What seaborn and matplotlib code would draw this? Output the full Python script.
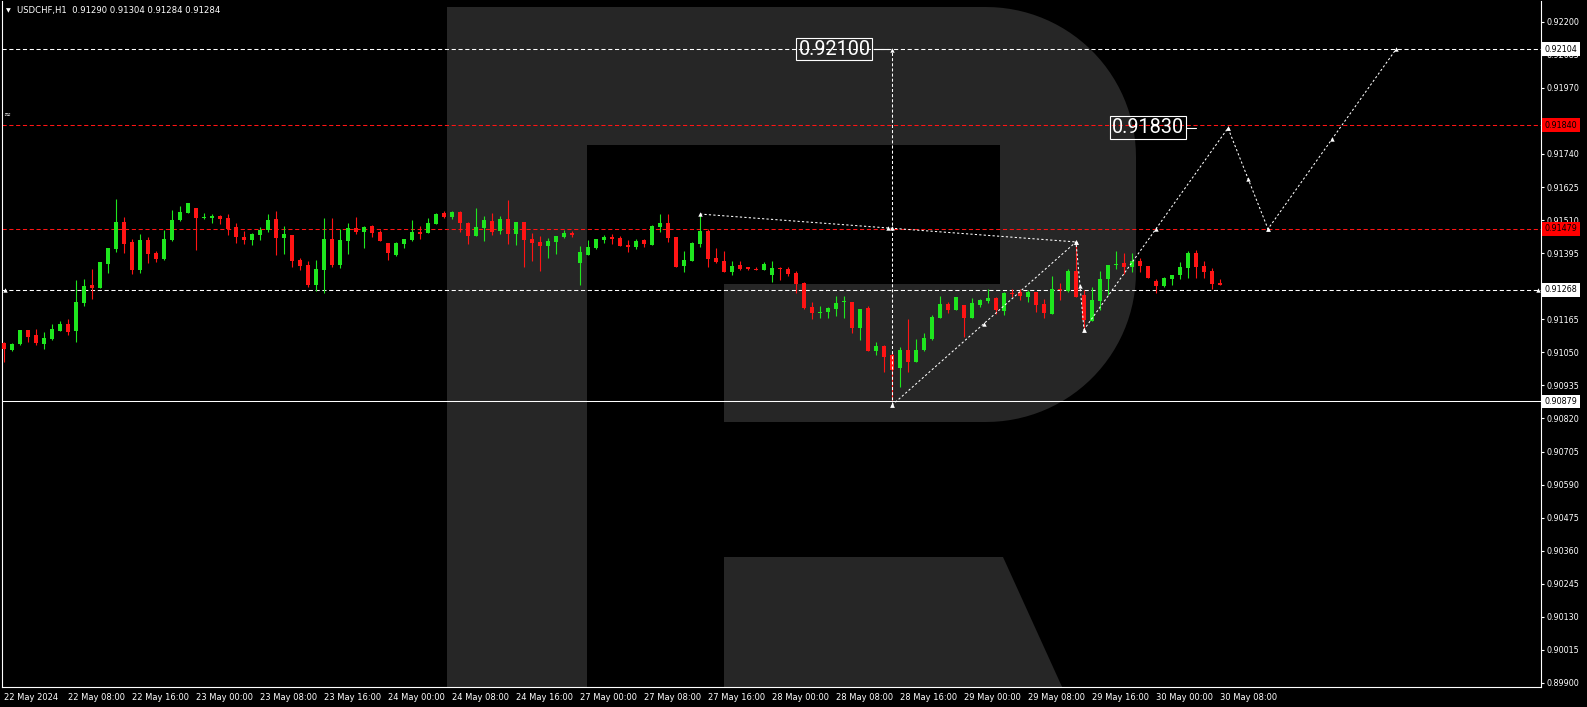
import numpy as np
import pandas as pd
import seaborn as sns
import matplotlib.pyplot as plt
import matplotlib.transforms as mtransforms
from matplotlib.patches import Polygon

# USDCHF H1 candles, 22 May 00:00 .. 30 May 08:00
opens = [0.91084, 0.91059, 0.91080, 0.91129, 0.91111, 0.91080, 0.91098, 0.91125, 0.91150, 0.91125,
         0.91222, 0.91285, 0.91275, 0.91358, 0.91410, 0.91503, 0.91434, 0.91337, 0.91441, 0.91396,
         0.91375, 0.91441, 0.91510, 0.91535, 0.91552, 0.91517, 0.91518, 0.91524, 0.91517, 0.91486,
         0.91451, 0.91441, 0.91458, 0.91476, 0.91514, 0.91448, 0.91458, 0.91372, 0.91354, 0.91285,
         0.91337, 0.91444, 0.91354, 0.91437, 0.91483, 0.91469, 0.91490, 0.91469, 0.91430, 0.91389,
         0.91427, 0.91441, 0.91469, 0.91465, 0.91497, 0.91535, 0.91521, 0.91538, 0.91500, 0.91455,
         0.91483, 0.91507, 0.91472, 0.91514, 0.91462, 0.91503, 0.91444, 0.91434, 0.91420, 0.91434,
         0.91451, 0.91465, 0.91361, 0.91389, 0.91413, 0.91441, 0.91451, 0.91448, 0.91423, 0.91417,
         0.91441, 0.91423, 0.91486, 0.91500, 0.91451, 0.91351, 0.91368, 0.91427, 0.91472, 0.91378,
         0.91368, 0.91330, 0.91354, 0.91347, 0.91340, 0.91337, 0.91320, 0.91344, 0.91340, 0.91327,
         0.91292, 0.91209, 0.91188, 0.91191, 0.91202, 0.91224, 0.91226, 0.91136, 0.91205, 0.91056,
         0.91073, 0.91039, 0.90994, 0.91059, 0.91018, 0.91059, 0.91098, 0.91170, 0.91219, 0.91198,
         0.91216, 0.91170, 0.91216, 0.91229, 0.91240, 0.91195, 0.91255, 0.91261, 0.91243, 0.91261,
         0.91219, 0.91184, 0.91268, 0.91264, 0.91333, 0.91250, 0.91160, 0.91229, 0.91306, 0.91354,
         0.91361, 0.91347, 0.91368, 0.91351, 0.91299, 0.91281, 0.91306, 0.91320, 0.91344, 0.91396,
         0.91351, 0.91333, 0.91290]
highs = [0.91087, 0.91084, 0.91129, 0.91129, 0.91132, 0.91122, 0.91150, 0.91160, 0.91167, 0.91302,
         0.91306, 0.91340, 0.91365, 0.91413, 0.91583, 0.91521, 0.91444, 0.91462, 0.91451, 0.91403,
         0.91476, 0.91545, 0.91559, 0.91570, 0.91552, 0.91535, 0.91531, 0.91528, 0.91531, 0.91500,
         0.91472, 0.91465, 0.91486, 0.91531, 0.91542, 0.91490, 0.91458, 0.91378, 0.91368, 0.91372,
         0.91517, 0.91517, 0.91479, 0.91500, 0.91521, 0.91490, 0.91493, 0.91476, 0.91430, 0.91434,
         0.91444, 0.91510, 0.91490, 0.91517, 0.91535, 0.91542, 0.91542, 0.91542, 0.91503, 0.91552,
         0.91524, 0.91535, 0.91524, 0.91580, 0.91503, 0.91503, 0.91465, 0.91455, 0.91448, 0.91455,
         0.91476, 0.91472, 0.91420, 0.91441, 0.91444, 0.91458, 0.91462, 0.91455, 0.91441, 0.91444,
         0.91444, 0.91493, 0.91531, 0.91531, 0.91451, 0.91403, 0.91434, 0.91528, 0.91479, 0.91413,
         0.91403, 0.91368, 0.91368, 0.91347, 0.91347, 0.91365, 0.91368, 0.91347, 0.91347, 0.91333,
         0.91295, 0.91226, 0.91212, 0.91209, 0.91247, 0.91247, 0.91226, 0.91202, 0.91212, 0.91087,
         0.91077, 0.91049, 0.91070, 0.91167, 0.91098, 0.91118, 0.91181, 0.91247, 0.91226, 0.91243,
         0.91216, 0.91240, 0.91236, 0.91271, 0.91243, 0.91261, 0.91271, 0.91271, 0.91268, 0.91261,
         0.91236, 0.91316, 0.91292, 0.91340, 0.91423, 0.91268, 0.91278, 0.91333, 0.91354, 0.91403,
         0.91396, 0.91396, 0.91378, 0.91351, 0.91306, 0.91313, 0.91320, 0.91365, 0.91403, 0.91406,
         0.91368, 0.91344, 0.91304]
lows = [0.91018, 0.91053, 0.91077, 0.91087, 0.91077, 0.91063, 0.91094, 0.91125, 0.91111, 0.91087,
        0.91212, 0.91236, 0.91275, 0.91327, 0.91399, 0.91396, 0.91323, 0.91327, 0.91361, 0.91365,
        0.91372, 0.91437, 0.91507, 0.91535, 0.91406, 0.91514, 0.91500, 0.91497, 0.91458, 0.91430,
        0.91427, 0.91423, 0.91441, 0.91469, 0.91389, 0.91392, 0.91347, 0.91337, 0.91278, 0.91264,
        0.91257, 0.91347, 0.91344, 0.91392, 0.91462, 0.91413, 0.91451, 0.91437, 0.91372, 0.91385,
        0.91413, 0.91437, 0.91444, 0.91465, 0.91497, 0.91517, 0.91514, 0.91469, 0.91427, 0.91455,
        0.91437, 0.91458, 0.91462, 0.91427, 0.91423, 0.91347, 0.91368, 0.91333, 0.91378, 0.91392,
        0.91448, 0.91451, 0.91285, 0.91389, 0.91410, 0.91430, 0.91427, 0.91420, 0.91399, 0.91410,
        0.91417, 0.91423, 0.91469, 0.91434, 0.91347, 0.91330, 0.91368, 0.91417, 0.91347, 0.91361,
        0.91330, 0.91320, 0.91337, 0.91337, 0.91337, 0.91337, 0.91295, 0.91302, 0.91316, 0.91257,
        0.91202, 0.91167, 0.91170, 0.91170, 0.91177, 0.91170, 0.91118, 0.91094, 0.91053, 0.91039,
        0.90983, 0.90884, 0.90928, 0.90980, 0.91018, 0.91053, 0.91094, 0.91170, 0.91188, 0.91198,
        0.91105, 0.91170, 0.91209, 0.91222, 0.91184, 0.91181, 0.91243, 0.91233, 0.91226, 0.91191,
        0.91170, 0.91184, 0.91233, 0.91261, 0.91243, 0.91129, 0.91160, 0.91198, 0.91250, 0.91340,
        0.91323, 0.91330, 0.91330, 0.91309, 0.91257, 0.91278, 0.91285, 0.91306, 0.91309, 0.91309,
        0.91309, 0.91271, 0.91284]
closes = [0.91063, 0.91080, 0.91129, 0.91105, 0.91084, 0.91101, 0.91132, 0.91150, 0.91122, 0.91226,
          0.91281, 0.91275, 0.91365, 0.91413, 0.91503, 0.91427, 0.91337, 0.91441, 0.91392, 0.91375,
          0.91444, 0.91510, 0.91538, 0.91570, 0.91517, 0.91519, 0.91525, 0.91514, 0.91479, 0.91451,
          0.91441, 0.91462, 0.91476, 0.91510, 0.91448, 0.91462, 0.91368, 0.91351, 0.91285, 0.91340,
          0.91444, 0.91354, 0.91441, 0.91483, 0.91469, 0.91486, 0.91465, 0.91437, 0.91396, 0.91430,
          0.91444, 0.91469, 0.91462, 0.91500, 0.91531, 0.91521, 0.91538, 0.91500, 0.91455, 0.91486,
          0.91510, 0.91469, 0.91514, 0.91462, 0.91503, 0.91441, 0.91430, 0.91420, 0.91437, 0.91455,
          0.91465, 0.91458, 0.91399, 0.91417, 0.91444, 0.91451, 0.91444, 0.91420, 0.91417, 0.91437,
          0.91427, 0.91490, 0.91500, 0.91448, 0.91347, 0.91372, 0.91430, 0.91472, 0.91375, 0.91365,
          0.91330, 0.91351, 0.91340, 0.91340, 0.91337, 0.91358, 0.91344, 0.91340, 0.91323, 0.91288,
          0.91205, 0.91188, 0.91191, 0.91205, 0.91222, 0.91226, 0.91136, 0.91202, 0.91056, 0.91073,
          0.91035, 0.90990, 0.91059, 0.91018, 0.91059, 0.91101, 0.91174, 0.91219, 0.91198, 0.91243,
          0.91170, 0.91222, 0.91233, 0.91240, 0.91198, 0.91257, 0.91254, 0.91247, 0.91261, 0.91216,
          0.91188, 0.91271, 0.91266, 0.91333, 0.91243, 0.91163, 0.91233, 0.91306, 0.91354, 0.91358,
          0.91347, 0.91368, 0.91351, 0.91309, 0.91281, 0.91309, 0.91320, 0.91347, 0.91396, 0.91347,
          0.91330, 0.91288, 0.91284]

time_labels = ["22 May 2024", "22 May 08:00", "22 May 16:00", "23 May 00:00", "23 May 08:00",
               "23 May 16:00", "24 May 00:00", "24 May 08:00", "24 May 16:00", "27 May 00:00",
               "27 May 08:00", "27 May 16:00", "28 May 00:00", "28 May 08:00", "28 May 16:00",
               "29 May 00:00", "29 May 08:00", "29 May 16:00", "30 May 00:00", "30 May 08:00"]
price_ticks = [0.92200, 0.92085, 0.91970, 0.91855, 0.91740, 0.91625, 0.91510, 0.91395, 0.91280,
               0.91165, 0.91050, 0.90935, 0.90820, 0.90705, 0.90590, 0.90475, 0.90360, 0.90245,
               0.90130, 0.90015, 0.89900]
hidden_ticks = [0.91855]   # fully covered by the red price tag in the original

# horizontal levels
level_target = 0.92104
level_upper = 0.91840
level_mid = 0.91479
level_now = 0.91268
level_low = 0.90879

# analysis drawings
trend_x = [87, 134]
trend_y = [0.91531, 0.91434]
vline_x = [111, 111]
vline_y = [0.90866, 0.92100]
path_x = [111, 134, 135, 153, 158, 174]
path_y = [0.90866, 0.91434, 0.91129, 0.91830, 0.91479, 0.92104]

GREEN = "#1ee61e"
RED = "#ff1414"
WM = "#262626"
W, H = 1587, 707

sns.set_theme(style="dark", rc={"axes.facecolor": "black", "figure.facecolor": "black",
                                "lines.scale_dashes": False})
plt.rcParams["font.family"] = ["DejaVu Sans"]

fig = plt.figure(figsize=(W / 100, H / 100), dpi=100, facecolor="black")
# plot frame: x 2..1541 px, y 1..687 px
ax = fig.add_axes([2 / W, 1 - 687 / H, 1539 / W, 686 / H])
ax.set_facecolor("black")
ax.set_xlim(-0.25, 192.125)
ax.set_ylim(0.898859, 0.92272)


def pix(x, y):
    # figure pixel -> axes fraction
    return ((x - 2) / 1539, (687 - y) / 686)


# watermark "R"
t1 = np.linspace(np.pi / 2, 0, 30)
t2 = np.linspace(0, -np.pi / 2, 30)
outline = [(447, 700), (447, 7), (986, 7)]
outline += [(986 + 150 * np.cos(t), 157 - 150 * np.sin(t)) for t in t1]
outline += [(986 + 150 * np.cos(t), 272 - 150 * np.sin(t)) for t in t2]
outline += [(724, 422), (724, 284), (1000, 284), (1000, 145), (587, 145), (587, 700)]
ax.add_patch(Polygon([pix(*p) for p in outline], closed=True, transform=ax.transAxes,
                     facecolor=WM, edgecolor="none", zorder=0.5))
leg = [(724, 557), (1003, 557), (1068, 700), (724, 700)]
ax.add_patch(Polygon([pix(*p) for p in leg], closed=True, transform=ax.transAxes,
                     facecolor=WM, edgecolor="none", zorder=0.5))

dash = (0, (3.0, 1.9))
fine = (0, (1.6, 1.6))
lw = 0.75

ax.axhline(level_target, color="white", lw=lw, ls=dash, zorder=1)
ax.axhline(level_upper, color=RED, lw=lw, ls=dash, zorder=1)
ax.axhline(level_mid, color=RED, lw=lw, ls=dash, zorder=1)
ax.axhline(level_now, color="white", lw=lw, ls=dash, zorder=1)
ax.axhline(level_low, color="white", lw=lw, zorder=1)

# candles
df = pd.DataFrame({"open": opens, "high": highs, "low": lows, "close": closes})
df["bar"] = np.arange(len(df))
df["color"] = np.where(df["close"] >= df["open"], GREEN, RED)
body_lo = df[["open", "close"]].min(axis=1)
body_h = (df["close"] - df["open"]).abs().clip(lower=0.000035)
ax.vlines(df["bar"], df["low"], df["high"], colors=df["color"], lw=0.8, zorder=2)
ax.bar(df["bar"], body_h, bottom=body_lo, width=0.62, color=df["color"], linewidth=0, zorder=3)

# forecast drawings
sns.lineplot(x=path_x, y=path_y, sort=False, estimator=None, color="white", lw=lw, ax=ax, zorder=5)
ax.lines[-1].set_linestyle(fine)
ax.plot(trend_x, trend_y, color="white", lw=lw, ls=fine, zorder=5)
ax.plot(vline_x, vline_y, color="white", lw=lw, ls=(0, (2.2, 1.5)), zorder=5)

seg_x = [trend_x, vline_x] + [path_x[k:k + 2] for k in range(len(path_x) - 1)]
seg_y = [trend_y, vline_y] + [path_y[k:k + 2] for k in range(len(path_y) - 1)]
mk_x, mk_y = [], []
for sx, sy in zip(seg_x, seg_y):
    mk_x += [sx[0], (sx[0] + sx[1]) / 2, sx[1]]
    mk_y += [sy[0], (sy[0] + sy[1]) / 2, sy[1]]
ax.scatter(mk_x, mk_y, marker="^", s=10, color="white", linewidths=0, zorder=6)
ax.scatter([0.1, 191.7], [level_now, level_now], marker="^", s=10, color="white",
           linewidths=0, zorder=6, clip_on=False)

big = dict(color="white", fontsize=14.3, family=["Roboto", "DejaVu Sans"],
           ha="center", va="center", zorder=7,
           bbox=dict(boxstyle="square,pad=0.1", fc="none", ec="white", lw=0.8))
ax.text(103.8, 0.92105, "0.92100", **big)
ax.plot([108.8, 110.6], [0.92106, 0.92106], color="white", lw=0.8, zorder=6)
ax.text(143.05, 0.91833, "0.91830", **big)
ax.plot([147.8, 149.0], [0.91830, 0.91830], color="white", lw=0.8, zorder=6)

# axes styling
for s in ["left", "right", "bottom"]:
    ax.spines[s].set_color("white")
    ax.spines[s].set_linewidth(0.8)
ax.spines["top"].set_visible(False)
ax.grid(False)

ax.yaxis.tick_right()
ax.set_yticks(price_ticks)
ax.set_yticklabels(["" if p in hidden_ticks else f"{p:.5f}" for p in price_ticks])
ax.tick_params(axis="y", colors="white", labelsize=5.8, length=2, width=0.8, pad=1.8,
               direction="out", left=False)
ax.set_xticks(np.arange(0, 153, 8))
ax.set_xticklabels(time_labels)
ax.tick_params(axis="x", colors="white", labelsize=6, length=3, width=0.8, pad=1,
               direction="out")
for lab in ax.get_xticklabels():
    lab.set_ha("left")

# price tags on the right scale
tr = mtransforms.blended_transform_factory(ax.transAxes, ax.transData)
tags = [(level_target, "white"), (level_upper, "#ff0000"), (level_mid, "#ff0000"),
        (level_now, "white"), (level_low, "white")]
for val, bg in tags:
    ax.text(1.0024, val, f"{val:.5f}", transform=tr, ha="left", va="center", fontsize=5.8,
            color="black", clip_on=False, zorder=8,
            bbox=dict(boxstyle="square,pad=0.3", fc=bg, ec="none"))

# header
fig.text(6 / W, 1 - 10.5 / H, "\u25bc", color="white", fontsize=4.5, ha="left", va="center")
fig.text(17 / W, 1 - 10 / H, "USDCHF,H1  0.91290 0.91304 0.91284 0.91284", color="white",
         fontsize=6.15, ha="left", va="center")
fig.text(3 / W, 1 - 114 / H, "\u2248", color="white", fontsize=6, ha="left", va="center")

fig.savefig("out.png", dpi=100, facecolor="black")
